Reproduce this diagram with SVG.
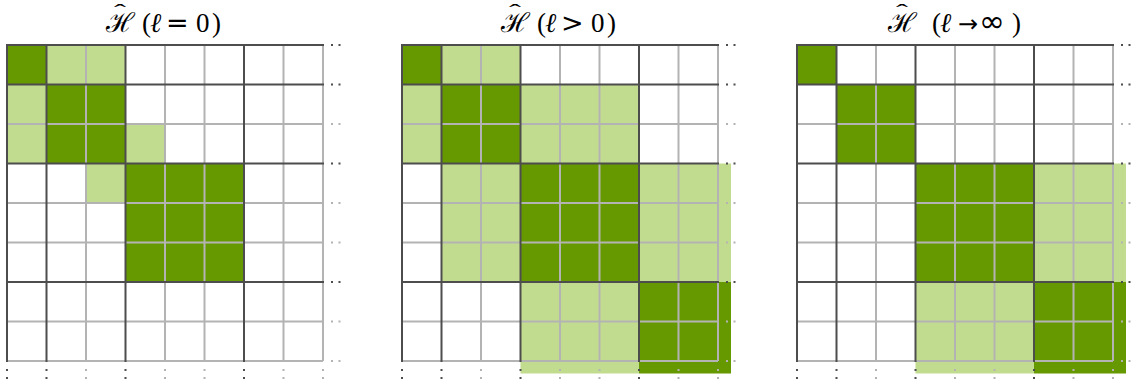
<svg xmlns="http://www.w3.org/2000/svg" xmlns:xlink="http://www.w3.org/1999/xlink" width="1137" height="383" viewBox="0 0 1137 383">
<style>
.dk{fill:#669900}
.lt{fill:#c2dc8f}
.gl{stroke:#b3b3b3;stroke-width:2;fill:none}
.gd{stroke:#4d4d4d;stroke-width:2;fill:none;stroke-linecap:square}
.dd{fill:#4d4d4d}
.dl{fill:#b3b3b3}
.t{font-family:"Liberation Serif","DejaVu Serif",serif;font-size:27px;fill:#000}
.s{font-family:"DejaVu Serif",serif;font-style:italic}
.h{font-family:"DejaVu Serif",serif;font-size:27px}
.o{font-family:"DejaVu Sans",sans-serif;font-size:27px}
.ar{font-family:"DejaVu Sans",sans-serif;font-size:24px}
.inf{font-family:"DejaVu Sans",sans-serif;font-size:31px}
.hat{font-family:"Liberation Serif",serif;font-size:18px}
</style>
<defs>
<g id="grid">
<path class="gl" d="M0 79H316M0 158H316M0 197.5H316M0 276.5H316M0 316H316M79 0V316M158 0V316M197.5 0V316M276.5 0V316M316 0V316"/>
<path class="gd" d="M0 0H316M0 39.5H316M0 118.5H316M0 237H316M0 0V316M39.5 0V316M118.5 0V316M237 0V316"/>
<g class="dd">
<rect x="324" y="-1" width="2" height="2"/><rect x="331.5" y="-1" width="2" height="2"/>
<rect x="324" y="38.5" width="2" height="2"/><rect x="331.5" y="38.5" width="2" height="2"/>
<rect x="324" y="117.5" width="2" height="2"/><rect x="331.5" y="117.5" width="2" height="2"/>
<rect x="324" y="236" width="2" height="2"/><rect x="331.5" y="236" width="2" height="2"/>
<rect x="-1" y="324" width="2" height="2"/><rect x="-1" y="332" width="2" height="2"/>
<rect x="38.5" y="324" width="2" height="2"/><rect x="38.5" y="332" width="2" height="2"/>
<rect x="117.5" y="324" width="2" height="2"/><rect x="117.5" y="332" width="2" height="2"/>
<rect x="236" y="324" width="2" height="2"/><rect x="236" y="332" width="2" height="2"/>
</g>
<g class="dl">
<rect x="324" y="78" width="2" height="2"/><rect x="331.5" y="78" width="2" height="2"/>
<rect x="324" y="157" width="2" height="2"/><rect x="331.5" y="157" width="2" height="2"/>
<rect x="324" y="196.5" width="2" height="2"/><rect x="331.5" y="196.5" width="2" height="2"/>
<rect x="324" y="275.5" width="2" height="2"/><rect x="331.5" y="275.5" width="2" height="2"/>
<rect x="324" y="315" width="2" height="2"/><rect x="331.5" y="315" width="2" height="2"/>
<rect x="78" y="324" width="2" height="2"/><rect x="78" y="332" width="2" height="2"/>
<rect x="157" y="324" width="2" height="2"/><rect x="157" y="332" width="2" height="2"/>
<rect x="196.5" y="324" width="2" height="2"/><rect x="196.5" y="332" width="2" height="2"/>
<rect x="275.5" y="324" width="2" height="2"/><rect x="275.5" y="332" width="2" height="2"/>
<rect x="315" y="324" width="2" height="2"/><rect x="315" y="332" width="2" height="2"/>
</g>
</g>
</defs>

<g id="panel1">
<g id="title1" class="t">
<text class="hat" x="120" y="17" transform="translate(120 0) scale(2 1) translate(-120 0)" text-anchor="middle">ˆ</text>
<text y="32"><tspan class="h" x="106">ℋ</tspan><tspan x="142">(</tspan><tspan class="s" x="150">ℓ</tspan><tspan class="o" x="166">=</tspan><tspan x="196">0</tspan><tspan x="212">)</tspan></text>
</g>
<g id="grid1" transform="translate(7 45)">
<rect class="lt" x="39.5" y="0" width="79" height="39.5"/>
<rect class="lt" x="0" y="39.5" width="39.5" height="79"/>
<rect class="lt" x="118.5" y="79" width="39.5" height="39.5"/>
<rect class="lt" x="79" y="118.5" width="39.5" height="39.5"/>
<rect class="dk" x="0" y="0" width="39.5" height="39.5"/>
<rect class="dk" x="39.5" y="39.5" width="79" height="79"/>
<rect class="dk" x="118.5" y="118.5" width="118.5" height="118.5"/>
<use xlink:href="#grid"/>
</g>
</g>

<g id="panel2">
<g id="title2" class="t">
<text class="hat" x="515" y="17" transform="translate(515 0) scale(2 1) translate(-515 0)" text-anchor="middle">ˆ</text>
<text y="32"><tspan class="h" x="501">ℋ</tspan><tspan x="537">(</tspan><tspan class="s" x="545">ℓ</tspan><tspan class="o" x="561">&gt;</tspan><tspan x="591">0</tspan><tspan x="607">)</tspan></text>
</g>
<g id="grid2" transform="translate(402 45)">
<rect class="lt" x="39.5" y="0" width="79" height="39.5"/>
<rect class="lt" x="0" y="39.5" width="39.5" height="79"/>
<rect class="lt" x="118.5" y="39.5" width="118.5" height="79"/>
<rect class="lt" x="39.5" y="118.5" width="79" height="118.5"/>
<rect class="lt" x="237" y="118.5" width="92" height="118.5"/>
<rect class="lt" x="118.5" y="237" width="118.5" height="91.5"/>
<rect class="dk" x="0" y="0" width="39.5" height="39.5"/>
<rect class="dk" x="39.5" y="39.5" width="79" height="79"/>
<rect class="dk" x="118.5" y="118.5" width="118.5" height="118.5"/>
<rect class="dk" x="237" y="237" width="92" height="91.5"/>
<use xlink:href="#grid"/>
</g>
</g>

<g id="panel3">
<g id="title3" class="t">
<text class="hat" x="902" y="17" transform="translate(902 0) scale(2 1) translate(-902 0)" text-anchor="middle">ˆ</text>
<text y="32"><tspan class="h" x="888">ℋ</tspan><tspan x="932">(</tspan><tspan class="s" x="940">ℓ</tspan><tspan class="ar" x="958">→</tspan><tspan class="inf" x="979">∞</tspan><tspan x="1012">)</tspan></text>
</g>
<g id="grid3" transform="translate(797 45)">
<rect class="lt" x="237" y="118.5" width="92" height="118.5"/>
<rect class="lt" x="118.5" y="237" width="118.5" height="91.5"/>
<rect class="dk" x="0" y="0" width="39.5" height="39.5"/>
<rect class="dk" x="39.5" y="39.5" width="79" height="79"/>
<rect class="dk" x="118.5" y="118.5" width="118.5" height="118.5"/>
<rect class="dk" x="237" y="237" width="92" height="91.5"/>
<use xlink:href="#grid"/>
</g>
</g>
</svg>
